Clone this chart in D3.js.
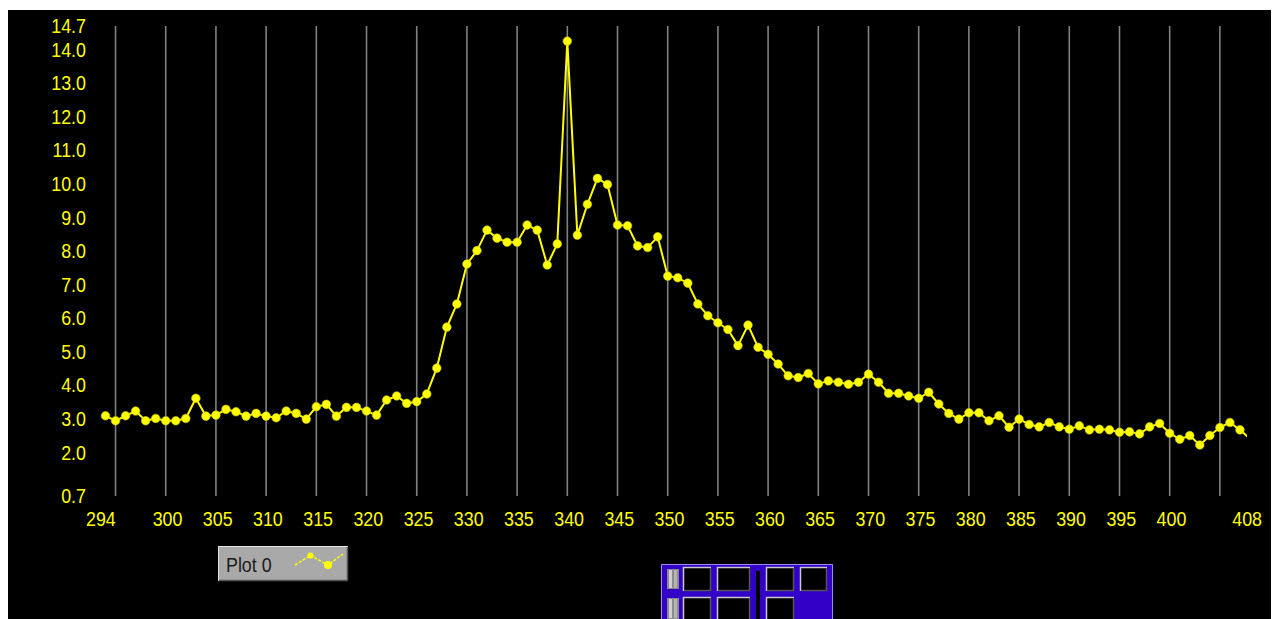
<!DOCTYPE html>
<html>
<head>
<meta charset="utf-8">
<script src="https://cdn.jsdelivr.net/npm/d3@7"></script>
<style>
  html, body { margin: 0; padding: 0; background: #ffffff; }
  svg { display: block; }
  text { font-family: "Liberation Sans", Arial, sans-serif; }
</style>
</head>
<body>
<svg id="chart" width="1279" height="619"></svg>
<script>
// Spectrum trace: one reading per unit from 294 to 408
const xValues = d3.range(294, 409);
const plot0 = [
  3.09, 2.94, 3.09, 3.23, 2.94, 3.01, 2.94, 2.94, 3.01, 3.61,
  3.08, 3.11, 3.28, 3.21, 3.08, 3.16, 3.08, 3.03, 3.23, 3.16,
  2.99, 3.36, 3.43, 3.08, 3.34, 3.34, 3.23, 3.11, 3.56, 3.68,
  3.46, 3.51, 3.74, 4.51, 5.73, 6.42, 7.61, 8.01, 8.62, 8.38,
  8.26, 8.26, 8.77, 8.62, 7.58, 8.21, 14.25, 8.47, 9.39, 10.16,
  9.98, 8.77, 8.75, 8.15, 8.10, 8.42, 7.25, 7.20, 7.04, 6.42,
  6.07, 5.86, 5.66, 5.18, 5.79, 5.13, 4.92, 4.63, 4.28, 4.23,
  4.35, 4.04, 4.13, 4.09, 4.03, 4.09, 4.33, 4.09, 3.76, 3.76,
  3.68, 3.61, 3.79, 3.44, 3.16, 2.99, 3.18, 3.18, 2.94, 3.09,
  2.75, 2.99, 2.83, 2.76, 2.89, 2.76, 2.69, 2.79, 2.67, 2.69,
  2.67, 2.60, 2.61, 2.55, 2.76, 2.86, 2.57, 2.39, 2.50, 2.22,
  2.50, 2.74, 2.89, 2.67, 2.40
];
const xDomain = [294, 408];
const yDomain = [0.7, 14.7];
const xTickLabels = [294, 300, 305, 310, 315, 320, 325, 330, 335, 340, 345, 350,
                     355, 360, 365, 370, 375, 380, 385, 390, 395, 400, 408];
const xGridValues = d3.range(295, 406, 5);
const yTickLabels = [14.7, 14, 13, 12, 11, 10, 9, 8, 7, 6, 5, 4, 3, 2, 0.7];
const legendLabel = "Plot 0";

const YELLOW = "#ffff00";
const NARROW = "scale(0.85,1)";   // condensed look for the panel font
const svg = d3.select("#chart");

// panel background
svg.append("rect").attr("x", 8).attr("y", 10).attr("width", 1263).attr("height", 609).attr("fill", "#000");

const x = d3.scaleLinear().domain(xDomain).range([105.5, 1250]);
const y = d3.scaleLinear().domain(yDomain).range([496, 26]);

// vertical grid
svg.append("g")
  .selectAll("line")
  .data(xGridValues)
  .join("line")
  .attr("x1", d => x(d)).attr("x2", d => x(d))
  .attr("y1", y(yDomain[1])).attr("y2", y(yDomain[0]))
  .attr("stroke", "#808080")
  .attr("stroke-width", 1.6);

// y axis labels
const yAxis = d3.axisLeft(y).tickValues(yTickLabels).tickSize(0).tickPadding(0)
  .tickFormat(d3.format(".1f"));
const gy = svg.append("g").attr("transform", "translate(86,0)").call(yAxis);
gy.select(".domain").remove();
gy.selectAll("text").attr("fill", YELLOW).attr("font-size", 21)
  .attr("font-family", "'Liberation Sans', Arial, sans-serif")
  .attr("transform", NARROW);

// x axis labels
const xAxis = d3.axisBottom(x).tickValues(xTickLabels).tickSize(0).tickPadding(0)
  .tickFormat(d3.format("d"));
const gx = svg.append("g").attr("transform", "translate(0,511)").call(xAxis);
gx.select(".domain").remove();
gx.selectAll("text").attr("fill", YELLOW).attr("font-size", 21)
  .attr("dy", "0.71em")
  .attr("font-family", "'Liberation Sans', Arial, sans-serif")
  .attr("transform", NARROW)
  .attr("dx", d => d === xDomain[0] ? -6 : d === xDomain[1] ? -4 : 1.5);

// plot area clip
svg.append("clipPath").attr("id", "plotClip")
  .append("rect").attr("x", 95).attr("y", 20).attr("width", 1152).attr("height", 482);

const series = xValues.map((v, i) => ({ x: v, y: plot0[i] }));
const plotG = svg.append("g").attr("clip-path", "url(#plotClip)");

const line = d3.line().x(d => x(d.x)).y(d => y(d.y));
plotG.append("path")
  .datum(series)
  .attr("d", line)
  .attr("fill", "none")
  .attr("stroke", YELLOW)
  .attr("stroke-width", 2)
  .attr("stroke-linejoin", "round");

plotG.selectAll("circle")
  .data(series.slice(0, -1))
  .join("circle")
  .attr("cx", d => x(d.x))
  .attr("cy", d => y(d.y))
  .attr("r", 4.3)
  .attr("fill", YELLOW)
  .attr("stroke", "#c8c800")
  .attr("stroke-width", 0.6);

// legend
const lg = svg.append("g");
lg.append("rect").attr("x", 218).attr("y", 546).attr("width", 130).attr("height", 35).attr("fill", "#a9a9a9");
lg.append("path").attr("d", "M218.5,580.5 V546.5 H347.5").attr("fill", "none").attr("stroke", "#e4e4e4").attr("stroke-width", 1);
lg.append("path").attr("d", "M219,580.5 H347.5 V547").attr("fill", "none").attr("stroke", "#555").attr("stroke-width", 1.5);
lg.append("text").attr("transform", "translate(226,572) " + NARROW)
  .attr("font-size", 21).attr("fill", "#1a1a1a").text(legendLabel);
const legendIcon = [[295, 565], [310.5, 555.5], [328, 565], [343, 554]];
lg.append("path").attr("d", d3.line()(legendIcon)).attr("fill", "none").attr("stroke", YELLOW).attr("stroke-width", 1.5)
  .attr("stroke-dasharray", "3,1.5");
lg.append("circle").attr("cx", 310.5).attr("cy", 555.5).attr("r", 3).attr("fill", YELLOW);
lg.append("circle").attr("cx", 328).attr("cy", 565).attr("r", 4).attr("fill", YELLOW);

// palette/tool widget
const w = svg.append("g");
w.append("rect").attr("x", 661).attr("y", 564).attr("width", 172).attr("height", 60).attr("fill", "#3300c8");
w.append("path").attr("d", "M661.5,619 V564.5 H832.5 V619").attr("fill", "none").attr("stroke", "#9c8cf0").attr("stroke-width", 1);
function handle(yTop, h) {
  w.append("rect").attr("x", 667).attr("y", yTop).attr("width", 12).attr("height", h).attr("fill", "#8c8c8c");
  w.append("rect").attr("x", 669).attr("y", yTop + 1).attr("width", 3).attr("height", h - 2).attr("fill", "#d0d0d0");
  w.append("rect").attr("x", 674).attr("y", yTop + 1).attr("width", 3).attr("height", h - 2).attr("fill", "#b4b4b4");
}
handle(569, 20);
handle(598, 21);
function box(x0, y0, wd, ht) {
  w.append("rect").attr("x", x0).attr("y", y0).attr("width", wd).attr("height", ht).attr("fill", "#000");
  w.append("path").attr("d", `M${x0 + 0.5},${y0 + ht} V${y0 + 0.5} H${x0 + wd}`).attr("fill", "none").attr("stroke", "#c8c8c8").attr("stroke-width", 1.5);
  w.append("path").attr("d", `M${x0 + 1},${y0 + ht - 0.5} H${x0 + wd - 0.5} V${y0 + 1}`).attr("fill", "none").attr("stroke", "#555").attr("stroke-width", 1.5);
}
box(683, 567, 28, 24);
box(717, 567, 33, 24);
box(766, 567, 28, 24);
box(800, 567, 27, 24);
box(683, 597, 28, 24);
box(717, 597, 33, 24);
box(766, 597, 28, 24);
w.append("rect").attr("x", 756).attr("y", 571).attr("width", 4).attr("height", 50).attr("fill", "#000");
</script>
</body>
</html>
